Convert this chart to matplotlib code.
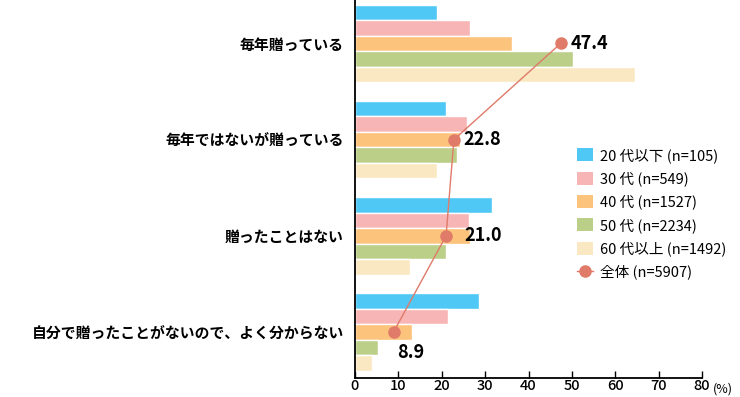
import numpy as np
import matplotlib as mpl
mpl.use('Agg')
import matplotlib.pyplot as plt

plt.rcParams['font.family'] = ['Noto Sans CJK JP', 'DejaVu Sans']

# data
categories = ['毎年贈っている', '毎年ではないが贈っている', '贈ったことはない',
              '自分で贈ったことがないので、よく分からない']
series_names = ['20 代以下 (n=105)', '30 代 (n=549)', '40 代 (n=1527)',
                '50 代 (n=2234)', '60 代以上 (n=1492)']
age20 = [19.0, 21.0, 31.5, 28.7]
age30 = [26.4, 25.9, 26.3, 21.5]
age40 = [36.1, 24.2, 26.6, 13.2]
age50 = [50.3, 23.6, 20.9, 5.2]
age60 = [64.5, 19.0, 12.7, 4.0]
total_name = '全体 (n=5907)'
total = [47.4, 22.8, 21.0, 8.9]
xticks = [0, 10, 20, 30, 40, 50, 60, 70, 80]

colors = ['#4fc8f6', '#f8b5b5', '#fcc37d', '#bbcf89', '#f9e8c1']
line_col = '#e07a69'
label_offsets = [(7, 0), (7, 0), (13, 0), (12, -15)]

fig = plt.figure(figsize=(7.4, 3.97), dpi=100)
ax = fig.add_axes([0.4797, 0.048, 0.469, 0.952])

y = np.arange(len(categories))
h = 0.161
allvals = [age20, age30, age40, age50, age60]
bars = []
for j, vals in enumerate(allvals):
    b = ax.barh(y + (j - 2) * h, vals, height=h, color=colors[j],
                edgecolor='white', linewidth=1, label=series_names[j], zorder=2)
    bars.append(b)

ln, = ax.plot(total, y, color=line_col, lw=1, marker='o', ms=8, label=total_name, zorder=3)
for i, v in enumerate(total):
    dx, dy = label_offsets[i]
    ax.annotate('%.1f' % v, (v, y[i]), xytext=(dx, dy), textcoords='offset points',
                ha='left' if dy == 0 else 'center', va='center',
                fontsize=13, fontweight='bold', zorder=4)

ax.set_xlim(0, 80)
ax.set_ylim(3.478, -0.452)
ax.set_xticks(xticks)
ax.set_xticklabels([str(t) for t in xticks], fontsize=10.5, fontweight='medium')
ax.set_yticks(y)
ax.set_yticklabels(categories, fontsize=10.7, fontweight='bold')
ax.tick_params(axis='y', length=0, pad=8)
ax.tick_params(axis='x', direction='in', length=5, width=1, pad=1)
for s in ['top', 'right']:
    ax.spines[s].set_visible(False)
ax.spines['left'].set_linewidth(1.3)
ax.spines['bottom'].set_linewidth(1.3)

ax.text(1.03, -0.012, '(%)', transform=ax.transAxes, fontsize=9,
        ha='left', va='top')

leg = ax.legend(bars + [ln], series_names + [total_name],
                loc='upper left', bbox_to_anchor=(0.762, 0.66),
                bbox_transform=fig.transFigure, frameon=False, fontsize=10.5,
                handlelength=1.1, handleheight=1.0, labelspacing=0.58,
                handletextpad=0.5)
for hnd in leg.legend_handles[:-1]:
    hnd.set_linewidth(0)

fig.savefig('out.png', dpi=100)
